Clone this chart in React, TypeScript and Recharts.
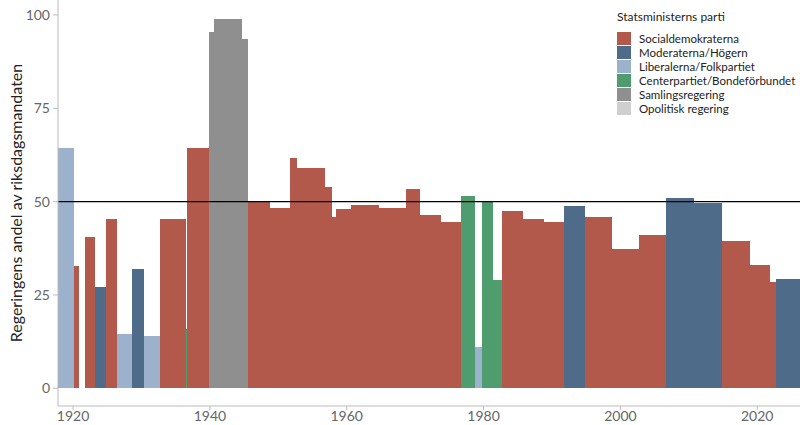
import { ComposedChart, XAxis, YAxis, ReferenceArea, ReferenceLine } from "recharts";

// government periods (decimal years), share of Riksdag seats, PM's party
const periodStart = [
  1917.8, 1920.2, 1920.92, 1921.8, 1923.26, 1924.87, 1926.47, 1928.66, 1930.42, 1932.75,
  1936.5, 1936.7, 1939.94, 1940.67, 1944.75, 1945.6, 1948.85, 1951.77, 1952.8, 1956.86,
  1957.88, 1958.46, 1960.66, 1964.75, 1968.7, 1970.74, 1973.8, 1976.72, 1978.77, 1979.8,
  1981.4, 1982.72, 1985.78, 1988.85, 1991.77, 1994.84, 1998.78, 2002.73, 2006.67, 2010.76,
  2014.85, 2019.0, 2021.9, 2022.7,
];
const periodEnd = [
  1920.2, 1920.92, 1921.8, 1923.26, 1924.87, 1926.47, 1928.66, 1930.42, 1932.75, 1936.5,
  1936.7, 1939.94, 1940.67, 1944.75, 1945.6, 1948.85, 1951.77, 1952.8, 1956.86, 1957.88,
  1958.46, 1960.66, 1964.75, 1968.7, 1970.74, 1973.8, 1976.72, 1978.77, 1979.8, 1981.4,
  1982.72, 1985.78, 1988.85, 1991.77, 1994.84, 1998.78, 2002.73, 2006.67, 2010.76, 2014.85,
  2019.0, 2021.9, 2022.7, 2026.25,
];
const seatShare = [
  64.4, 32.8, 0, 40.5, 27.1, 45.4, 14.5, 32.0, 14.0, 45.4,
  15.9, 64.4, 95.4, 98.9, 93.5, 50.0, 48.4, 61.8, 59.1, 54.0,
  46.0, 48.1, 49.2, 48.4, 53.5, 46.5, 44.6, 51.6, 11.0, 50.0,
  29.0, 47.6, 45.4, 44.6, 48.7, 46.0, 37.4, 41.1, 51.1, 49.5,
  39.5, 33.1, 28.5, 29.3,
];
const pmParty = [
  "L", "S", "O", "S", "M", "S", "L", "M", "L", "S",
  "C", "S", "X", "X", "X", "S", "S", "S", "S", "S",
  "S", "S", "S", "S", "S", "S", "S", "C", "L", "C",
  "C", "S", "S", "S", "M", "S", "S", "S", "M", "M",
  "S", "S", "S", "M",
];

const partyKeys = ["S", "M", "L", "C", "X", "O"];
const partyNames = [
  "Socialdemokraterna",
  "Moderaterna/Högern",
  "Liberalerna/Folkpartiet",
  "Centerpartiet/Bondeförbundet",
  "Samlingsregering",
  "Opolitisk regering",
];
const partyColors = ["#B3594C", "#4E6C8A", "#9CB2CC", "#4F9C6E", "#8F8F8F", "#CFCFCF"];

const xTicks = [1920, 1940, 1960, 1980, 2000, 2020];
const yTicks = [0, 25, 50, 75, 100];

const periods = periodStart.map((s, i) => ({
  start: s,
  end: periodEnd[i],
  share: seatShare[i],
  color: partyColors[partyKeys.indexOf(pmParty[i])],
}));

const FONT = "Lato, 'Open Sans', sans-serif";

export default function App() {
  return (
    <div style={{ position: "absolute", left: 0, top: 0, width: 800, height: 425, fontFamily: FONT }}>
      <ComposedChart width={800} height={425} data={periods} margin={{ top: 0, right: 0, bottom: 0, left: 0 }}>
        <XAxis
          type="number"
          dataKey="start"
          domain={[1917.8, 2026.25]}
          ticks={xTicks}
          allowDataOverflow
          height={19}
          tickSize={4}
          tickMargin={1}
          stroke="#bbbbbb"
          tick={{ fontSize: 14, fill: "#666666", fontFamily: FONT }}
        />
        <YAxis
          type="number"
          domain={[-4.74, 104]}
          ticks={yTicks}
          allowDataOverflow
          width={58}
          tickSize={5}
          tickMargin={3}
          stroke="#bbbbbb"
          tick={{ fontSize: 14, fill: "#666666", fontFamily: FONT }}
          label={{
            value: "Regeringens andel av riksdagsmandaten",
            angle: -90,
            position: "insideLeft",
            offset: 16,
            style: { textAnchor: "middle", fontSize: 16, fill: "#222222", fontFamily: FONT },
          }}
        />
        {periods.map((p, i) => (
          <ReferenceArea
            key={i}
            x1={p.start}
            x2={p.end}
            y1={0}
            y2={p.share}
            fill={p.color}
            fillOpacity={1}
            stroke="none"
            shapeRendering="crispEdges"
            ifOverflow="hidden"
          />
        ))}
        <ReferenceLine y={50} stroke="#000000" strokeWidth={1.2} />
      </ComposedChart>
      <div style={{ position: "absolute", left: 617, top: 9, color: "#222", fontFamily: FONT }}>
        <div style={{ fontSize: 12, marginBottom: 7 }}>Statsministerns parti</div>
        {partyNames.map((n, i) => (
          <div key={n} style={{ display: "flex", alignItems: "center", height: 14, fontSize: 11.5 }}>
            <span style={{ width: 14, height: 13, background: partyColors[i], marginRight: 8, display: "inline-block" }} />
            {n}
          </div>
        ))}
      </div>
    </div>
  );
}
